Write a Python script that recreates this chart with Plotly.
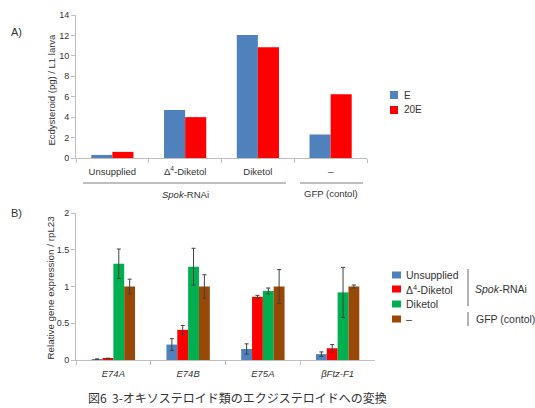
import plotly.graph_objects as go

# ---- Data: panel A ----
a_categories = ["Unsupplied", "Δ<sup>4</sup>-Diketol", "Diketol", "–"]
a_series = ["E", "20E"]
a_E = [0.3, 4.7, 12.05, 2.3]
a_20E = [0.6, 4.0, 10.85, 6.25]
a_yticks = [0, 2, 4, 6, 8, 10, 12, 14]

# ---- Data: panel B ----
b_genes = ["<i>E74A</i>", "<i>E74B</i>", "<i>E75A</i>", "<i>βFtz-F1</i>"]
b_series = ["Unsupplied", "Δ<sup>4</sup>-Diketol", "Diketol", "–"]
b_values = [
    [0.01, 0.21, 0.15, 0.08],   # Unsupplied
    [0.02, 0.41, 0.86, 0.16],   # Δ4-Diketol
    [1.31, 1.27, 0.94, 0.92],   # Diketol
    [1.00, 1.00, 1.00, 1.00],   # –
]
b_errors = [
    [0.005, 0.08, 0.07, 0.03],
    [0.005, 0.06, 0.02, 0.05],
    [0.20, 0.25, 0.04, 0.34],
    [0.10, 0.16, 0.23, 0.02],
]
b_yticks = [0, 0.5, 1, 1.5, 2]

colors = ["#4F81BD", "#FF0000", "#00B050", "#984807"]
FONT = "Liberation Sans, Arial, sans-serif"
TXT = "#333333"
W, H = 535, 408


def px(x):
    return x / W


def py(y):
    return 1 - y / H


fig = go.Figure()

# Panel A bars
for i, (name, vals) in enumerate(zip(a_series, [a_E, a_20E])):
    fig.add_trace(go.Bar(x=a_categories, y=vals, name=name,
                         marker=dict(color=colors[i], line=dict(width=0)),
                         xaxis="x", yaxis="y", offsetgroup=str(i)))

# Panel B bars
for i, s in enumerate(b_series):
    fig.add_trace(go.Bar(
        x=b_genes, y=b_values[i], name=s,
        marker=dict(color=colors[i], line=dict(width=0)),
        error_y=dict(type="data", array=b_errors[i], color="#404040",
                     thickness=1, width=2),
        xaxis="x2", yaxis="y2"))

axis_line = "#BFBFBF"
common_x = dict(showline=True, linecolor=axis_line, ticks="outside",
                tickson="boundaries", ticklen=4, tickcolor=axis_line,
                showgrid=False, automargin=False,
                tickfont=dict(size=9.5, color=TXT))
common_y = dict(showline=True, linecolor=axis_line, ticks="outside",
                ticklen=4, tickcolor=axis_line, showgrid=False,
                zeroline=False, automargin=False,
                tickfont=dict(size=9, color=TXT))

fig.update_layout(
    width=W, height=H,
    margin=dict(l=0, r=0, t=0, b=0, autoexpand=False),
    paper_bgcolor="white", plot_bgcolor="white",
    font=dict(family=FONT, size=9, color=TXT),
    barmode="group",
    bargap=0.42, bargroupgap=0,
    showlegend=False,
    xaxis=dict(domain=[px(76), px(367)], anchor="y", **common_x),
    yaxis=dict(domain=[py(158), py(15)], anchor="x", range=[0, 14],
               tickvals=a_yticks, **common_y),
    xaxis2=dict(domain=[px(76), px(375)], anchor="y2", **common_x),
    yaxis2=dict(domain=[py(360), py(213)], anchor="x2", range=[0, 2],
                tickvals=b_yticks, ticktext=["0", "0.5", "1", "1.5", "2"],
                **common_y),
)
fig.update_xaxes(ticklabelstandoff=5)

anns = [
    dict(text="A)", x=px(9), y=py(32), xanchor="left",
         font=dict(size=11, color=TXT)),
    dict(text="B)", x=px(9), y=py(213), xanchor="left",
         font=dict(size=11, color=TXT)),
    dict(text="Ecdysteroid (pg) / L1 larva", x=px(43), y=py(90),
         textangle=-90, font=dict(size=9.5, color=TXT)),
    dict(text="Relative gene expression / rpL23", x=px(42), y=py(288),
         textangle=-90, font=dict(size=9.8, color=TXT)),
    dict(text="<i>Spok</i>-RNAi", x=px(185), y=py(194),
         font=dict(size=9.5, color=TXT)),
    dict(text="GFP (contol)", x=px(331), y=py(193),
         font=dict(size=9.5, color=TXT)),
    dict(text="<i>Spok</i>-RNAi", x=px(473), y=py(289), xanchor="left",
         font=dict(size=10.5, color=TXT)),
    dict(text="GFP (contol)", x=px(474), y=py(319), xanchor="left",
         font=dict(size=10.5, color=TXT)),
    dict(text="図6  3-オキソステロイド類のエクジステロイドへの変換",
         x=px(86), y=py(397), xanchor="left",
         font=dict(family="Noto Sans CJK JP", size=12, color=TXT)),
]

# Manual legends (names taken from series lists)
legA_y = [95, 110]
for i, name in enumerate(a_series):
    fig.add_shape(type="rect", xref="paper", yref="paper",
                  x0=px(390), x1=px(398), y0=py(legA_y[i] + 4),
                  y1=py(legA_y[i] - 4), fillcolor=colors[i], line_width=0)
    anns.append(dict(text=name, x=px(402), y=py(legA_y[i]), xanchor="left",
                     font=dict(size=10, color=TXT)))

legB_y = [275, 289, 304, 319]
for i, name in enumerate(b_series):
    fig.add_shape(type="rect", xref="paper", yref="paper",
                  x0=px(392), x1=px(401), y0=py(legB_y[i] + 3.5),
                  y1=py(legB_y[i] - 3.5), fillcolor=colors[i], line_width=0)
    anns.append(dict(text=name, x=px(404), y=py(legB_y[i]), xanchor="left",
                     font=dict(size=10.5, color=TXT)))

for a in anns:
    fig.add_annotation(xref="paper", yref="paper", showarrow=False,
                       yanchor="middle", **a)

shapes = [
    dict(x0=px(83), x1=px(286), y0=py(183), y1=py(183)),
    dict(x0=px(300), x1=px(363), y0=py(183), y1=py(183)),
    dict(x0=px(468), x1=px(468), y0=py(269), y1=py(306)),
    dict(x0=px(468), x1=px(468), y0=py(312), y1=py(326)),
]
for s in shapes:
    fig.add_shape(type="line", xref="paper", yref="paper",
                  line=dict(color="#808080", width=1.2), **s)

fig.write_html(
    "out.html",
    config={"displayModeBar": False},
    post_script="document.body.style.margin='0';document.body.style.overflow='hidden';",
)
